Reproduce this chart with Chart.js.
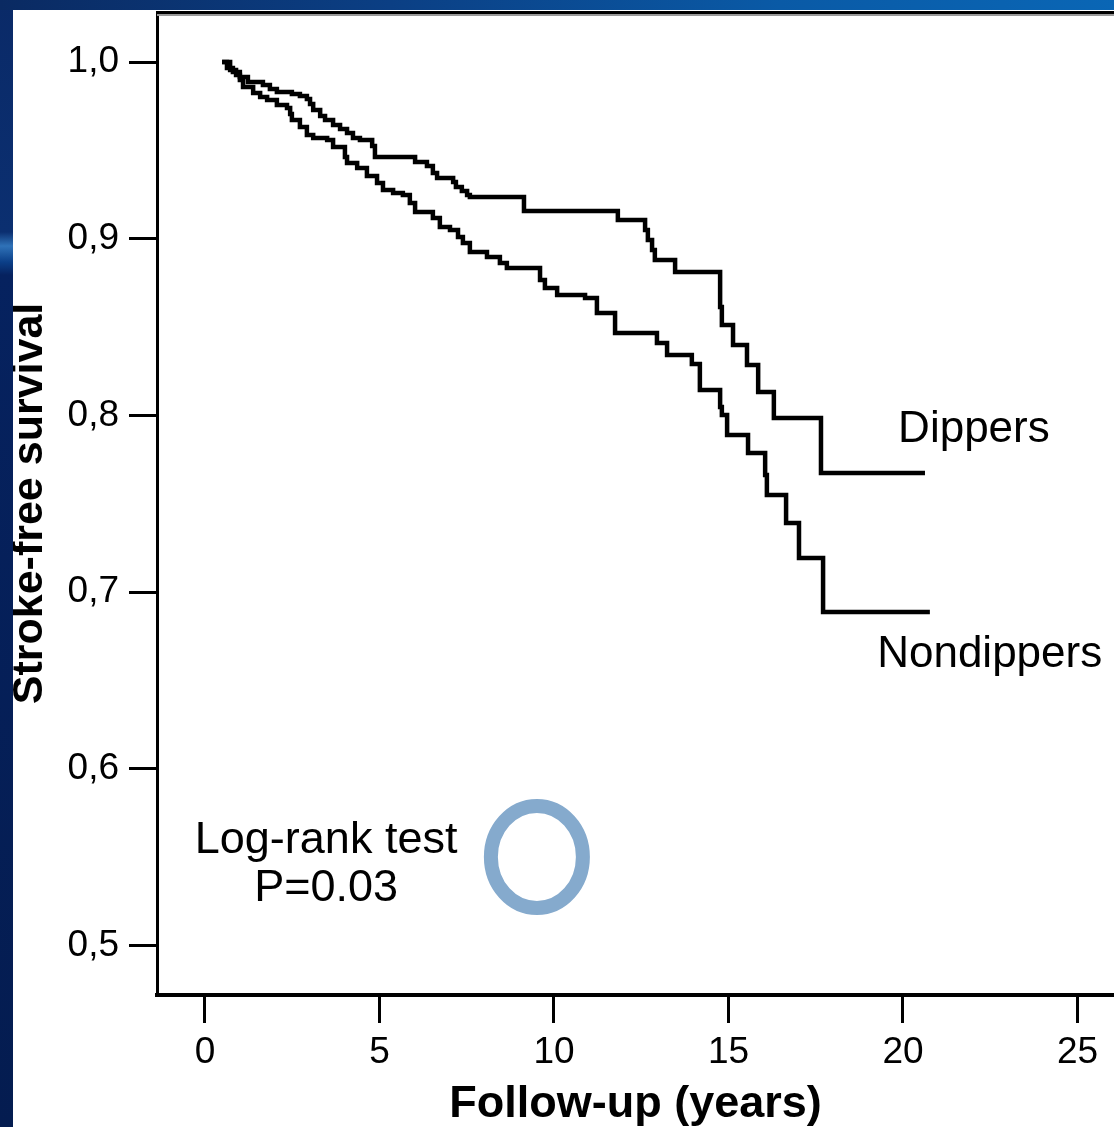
<!DOCTYPE html>
<html>
<head>
<meta charset="utf-8">
<script src="https://cdn.jsdelivr.net/npm/chart.js@4"></script>
<style>
  html, body { margin: 0; padding: 0; }
  body {
    width: 1114px; height: 1127px; overflow: hidden; position: relative;
    background: linear-gradient(to bottom, #0a2a68 0, #0b2f70 232px, #2f72b8 246px, #0b3f88 262px, #06225f 275px, #041c50 100%);
  }
  #band {
    position: absolute; left: 0; top: 0; width: 1114px; height: 10px;
    background: linear-gradient(to right, #0a2a62 0, #0b3f84 35%, #0a5aa6 70%, #0a66b5 100%);
  }
  #panel {
    position: absolute; left: 13px; top: 10px; width: 1101px; height: 1117px; background: #fff;
  }
  canvas { display: block; }
</style>
</head>
<body>
<div id="band"></div>
<div id="panel"><canvas id="km" width="1101" height="1117"></canvas></div>
<script>
// follow-up time (years) and survival after each step
const dipT = [0.49, 0.63, 0.80, 1.00, 1.23, 1.66, 1.86, 2.06, 2.49, 2.72, 2.92, 3.01, 3.10, 3.30, 3.44,
  3.67, 3.87, 4.07, 4.24, 4.44, 4.79, 4.87, 6.02, 6.36, 6.53, 6.65, 7.11, 7.19, 7.36, 7.51, 7.59, 9.14,
  11.83, 12.61, 12.69, 12.81, 12.89, 13.47, 14.76, 14.81, 15.13, 15.53, 15.85, 16.30, 17.65, 20.63];
const dipS = [1.000, 0.9966, 0.9943, 0.9915, 0.9887, 0.9870, 0.9847, 0.9830, 0.9819, 0.9808, 0.9791, 0.9762, 0.9728, 0.9694, 0.9672,
  0.9643, 0.9621, 0.9598, 0.9570, 0.9559, 0.9525, 0.9462, 0.9434, 0.9411, 0.9372, 0.9344, 0.9321, 0.9293, 0.9270, 0.9247, 0.9236, 0.9157,
  0.9106, 0.9049, 0.8993, 0.8936, 0.8879, 0.8812, 0.8613, 0.8512, 0.8398, 0.8285, 0.8132, 0.7985, 0.7674, 0.7674];

const nonT = [0.49, 0.72, 0.89, 1.00, 1.09, 1.38, 1.58, 1.78, 2.06, 2.35, 2.44, 2.49, 2.72, 2.92, 3.10, 3.50,
  3.67, 4.01, 4.07, 4.36, 4.64, 4.93, 5.10, 5.39, 5.67, 5.87, 6.02, 6.53, 6.73, 7.02, 7.25, 7.39, 7.59, 8.08,
  8.45, 8.65, 9.60, 9.74, 10.09, 10.89, 11.23, 11.75, 12.95, 13.24, 13.95, 14.18, 14.76, 14.81, 14.96, 15.56,
  16.05, 16.10, 16.65, 17.02, 17.71, 20.77];
const nonS = [1.000, 0.9955, 0.9926, 0.9898, 0.9858, 0.9825, 0.9802, 0.9785, 0.9757, 0.9740, 0.9706, 0.9672, 0.9632, 0.9587, 0.9570, 0.9559,
  0.9519, 0.9462, 0.9428, 0.9400, 0.9355, 0.9315, 0.9276, 0.9259, 0.9247, 0.9202, 0.9151, 0.9117, 0.9066, 0.9049, 0.9010, 0.8976, 0.8925, 0.8896,
  0.8862, 0.8834, 0.8766, 0.8721, 0.8681, 0.8664, 0.8580, 0.8466, 0.8410, 0.8342, 0.8291, 0.8144, 0.8048, 0.8002, 0.7889, 0.7787,
  0.7663, 0.7550, 0.7391, 0.7193, 0.6887, 0.6887];

const xTicks = [0, 5, 10, 15, 20, 25];
const yTicks = [0.5, 0.6, 0.7, 0.8, 0.9, 1.0];

const toPoints = (ts, ss) => ts.map((t, i) => ({ x: t, y: ss[i] }));

const FONT = "'Liberation Sans', Arial, sans-serif";

// group labels, test result and the highlight ring, placed in data units
const notes = [
  { text: 'Dippers', x: 19.86, y: 0.7917, align: 'left', size: 44 },
  { text: 'Nondippers', x: 19.26, y: 0.6644, align: 'left', size: 44 },
  { text: 'Log-rank test', x: 3.47, y: 0.5591, align: 'center', size: 45 },
  { text: 'P=0.03', x: 3.47, y: 0.5325, align: 'center', size: 45 },
];
const ring = { x: 9.51, y: 0.5501 };

const decor = {
  id: 'decor',
  afterDatasetsDraw(chart) {
    const { ctx, chartArea, scales } = chart;
    ctx.save();
    // frame line along the top
    ctx.strokeStyle = '#999';
    ctx.lineWidth = 2;
    ctx.beginPath();
    ctx.moveTo(chartArea.left, chartArea.top + 3);
    ctx.lineTo(chartArea.right, chartArea.top + 3);
    ctx.stroke();
    ctx.strokeStyle = '#000';
    ctx.lineWidth = 3;
    ctx.beginPath();
    ctx.moveTo(chartArea.left - 1, chartArea.top + 0.5);
    ctx.lineTo(chartArea.right, chartArea.top + 0.5);
    ctx.stroke();

    ctx.fillStyle = '#000';
    ctx.textBaseline = 'middle';
    notes.forEach(n => {
      ctx.font = n.size + 'px ' + FONT;
      ctx.textAlign = n.align;
      ctx.fillText(n.text, scales.x.getPixelForValue(n.x), scales.y.getPixelForValue(n.y));
    });

    ctx.strokeStyle = '#85aacd';
    ctx.lineWidth = 14;
    ctx.beginPath();
    ctx.ellipse(scales.x.getPixelForValue(ring.x), scales.y.getPixelForValue(ring.y), 46, 51, 0, 0, Math.PI * 2);
    ctx.stroke();
    ctx.restore();
  }
};

new Chart(document.getElementById('km'), {
  type: 'line',
  data: {
    datasets: [
      { label: 'Dippers', data: toPoints(dipT, dipS), borderColor: '#000', borderWidth: 4.5 },
      { label: 'Nondippers', data: toPoints(nonT, nonS), borderColor: '#000', borderWidth: 4.5 },
    ],
  },
  options: {
    responsive: false,
    animation: false,
    devicePixelRatio: 1,
    layout: { padding: { top: 2, right: 0, left: 0, bottom: 0 } },
    elements: {
      line: { stepped: true, tension: 0, fill: false },
      point: { radius: 0, hoverRadius: 0 },
    },
    plugins: { legend: { display: false }, tooltip: { enabled: false } },
    scales: {
      x: {
        type: 'linear',
        min: -1.375,
        max: 26.046,
        afterFit: s => { s.height = 132; s.paddingLeft = 0; s.paddingRight = 0; },
        afterBuildTicks: s => { s.ticks = xTicks.map(v => ({ value: v })); },
        border: { color: '#000', width: 4 },
        grid: { drawOnChartArea: false, drawTicks: true, tickLength: 28, tickWidth: 3, tickColor: '#000' },
        ticks: {
          color: '#000',
          padding: 8,
          maxRotation: 0,
          font: { family: FONT, size: 37 },
        },
        title: {
          display: true,
          text: 'Follow-up (years)',
          color: '#000',
          padding: 0,
          font: { family: FONT, size: 45, weight: 'bold', lineHeight: 1 },
        },
      },
      y: {
        type: 'linear',
        min: 0.472,
        max: 1.0283,
        afterFit: s => { s.width = 144; s.paddingTop = 0; s.paddingBottom = 0; },
        afterBuildTicks: s => { s.ticks = yTicks.map(v => ({ value: v })); },
        border: { color: '#000', width: 3 },
        grid: { drawOnChartArea: false, drawTicks: true, tickLength: 28, tickWidth: 3, tickColor: '#000' },
        ticks: {
          color: '#000',
          padding: 10,
          font: { family: FONT, size: 37 },
          callback: v => v.toFixed(1).replace('.', ','),
        },
        title: {
          display: true,
          text: 'Stroke-free survival',
          color: '#000',
          padding: 0,
          font: { family: FONT, size: 43, weight: 'bold', lineHeight: 0.8 },
        },
      },
    },
  },
  plugins: [decor],
});
</script>
</body>
</html>
